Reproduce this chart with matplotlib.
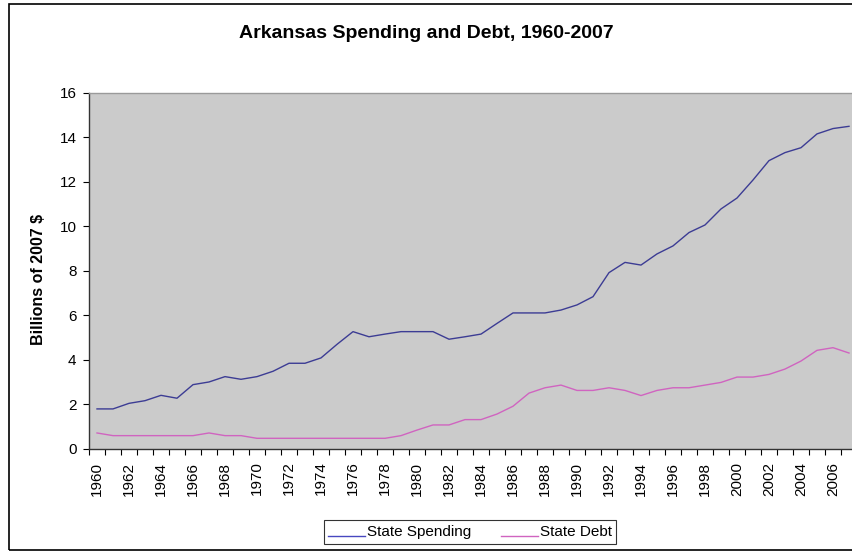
import numpy as np
import matplotlib.pyplot as plt
from matplotlib.patches import Rectangle

plt.rcParams['font.family'] = ['Liberation Sans', 'DejaVu Sans']

years = list(range(1960, 2008))
# Billions of 2007 $
spending = [1.80, 1.80, 2.05, 2.17, 2.41, 2.28, 2.89, 3.01, 3.25, 3.13,
            3.25, 3.49, 3.85, 3.85, 4.09, 4.70, 5.27, 5.04, 5.16, 5.27,
            5.27, 5.27, 4.93, 5.04, 5.16, 5.64, 6.11, 6.11, 6.11, 6.24,
            6.47, 6.84, 7.92, 8.38, 8.26, 8.76, 9.12, 9.72, 10.06, 10.78,
            11.27, 12.08, 12.95, 13.31, 13.53, 14.15, 14.39, 14.49]
debt = [0.72, 0.60, 0.60, 0.60, 0.60, 0.60, 0.60, 0.72, 0.60, 0.60,
        0.48, 0.48, 0.48, 0.48, 0.48, 0.48, 0.48, 0.48, 0.48, 0.60,
        0.85, 1.08, 1.08, 1.32, 1.32, 1.57, 1.92, 2.51, 2.75, 2.87,
        2.63, 2.63, 2.75, 2.63, 2.40, 2.63, 2.75, 2.75, 2.87, 2.99,
        3.23, 3.23, 3.35, 3.59, 3.95, 4.43, 4.55, 4.31]
label_years = years[::2]

fig = plt.figure(figsize=(8.52, 5.52), dpi=100)
fig.patches.append(Rectangle((9 / 852, 2 / 552), 1.0, 1 - 6 / 552,
                             transform=fig.transFigure, fill=False,
                             edgecolor='black', linewidth=1.2))

ax = fig.add_axes([89 / 852, 1 - 449 / 552, 768 / 852, (449 - 92.7) / 552])
ax.set_facecolor('#cbcbcb')

l1, = ax.plot(years, spending, color='#3c3c94', linewidth=1.0)
l2, = ax.plot(years, debt, color='#d064c0', linewidth=1.0)

ax.set_xlim(1959.5, 2007.5)
ax.set_ylim(0, 16)
ax.set_yticks(np.arange(0, 17, 2))
ax.tick_params(axis='y', direction='out', length=4, width=0.8, pad=5,
               labelsize=11)
ax.set_xticks(label_years)
ax.set_xticklabels([str(y) for y in label_years], rotation=90)
ax.tick_params(axis='x', which='major', length=0, pad=9, labelsize=11)
ax.set_xticks(np.arange(1959.5, 2008, 1), minor=True)
ax.tick_params(axis='x', which='minor', direction='out', length=4, width=0.8)

for side in ['left', 'bottom']:
    ax.spines[side].set_color('#333333')
    ax.spines[side].set_linewidth(1.0)
for side in ['top', 'right']:
    ax.spines[side].set_color('#9a9a9a')
    ax.spines[side].set_linewidth(1.0)

fig.text(0.5, 1 - 34 / 552, 'Arkansas Spending and Debt, 1960-2007',
         ha='center', va='center', fontsize=14, fontweight='bold')
fig.text(39 / 852, 1 - 279 / 552, 'Billions of 2007 $', rotation=90,
         ha='center', va='center', fontsize=11.5, fontweight='bold')

leg = fig.legend([l1, l2], ['State Spending', 'State Debt'], ncol=2,
                 loc='center', bbox_to_anchor=(470 / 852, 1 - 532 / 552),
                 fontsize=11, frameon=True, fancybox=False, handlelength=2.4,
                 handletextpad=0.1, columnspacing=2.0, borderpad=0.3)
leg.get_frame().set_edgecolor('black')
leg.get_frame().set_linewidth(0.8)
leg.get_lines()[0].set_color('#4848c0')
for ln in leg.get_lines():
    ln.set_ydata(np.asarray(ln.get_ydata()) - 4)

fig.savefig('out.png', dpi=100)
